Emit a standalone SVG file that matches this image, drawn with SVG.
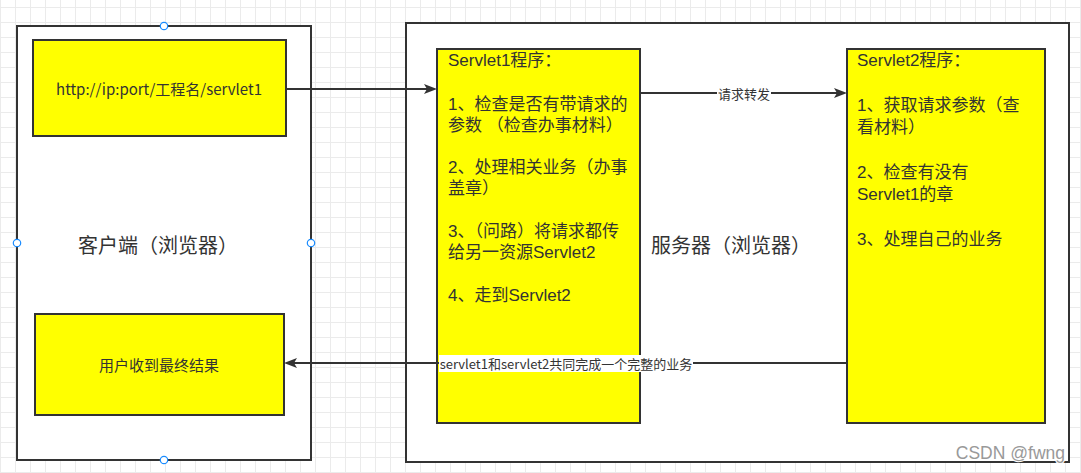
<svg xmlns="http://www.w3.org/2000/svg" width="1081" height="473" viewBox="0 0 1081 473">
<style>
.frame{fill:#ffffff;stroke:#333333;stroke-width:2}
.box{fill:#ffff00;stroke:#333333;stroke-width:2}
.t{font-family:"Noto Sans CJK SC","Noto Sans",sans-serif;fill:#333333}
.c{text-anchor:middle;dominant-baseline:central}
.l{font-family:"Liberation Sans","Noto Sans CJK SC",sans-serif;dominant-baseline:central;font-size:17px;fill:#333333}
.edge{stroke:#333333;stroke-width:2;fill:none}
.handle{fill:#ffffff;stroke:#1a8cff;stroke-width:1.2}
</style>
<defs>
<pattern id="grid" patternUnits="userSpaceOnUse" x="0" y="7" width="15" height="15">
<rect x="0" y="0" width="1" height="15" fill="#ebebeb"/>
<rect x="0" y="0" width="15" height="1" fill="#ebebeb"/>
</pattern>
<marker id="arr" markerUnits="userSpaceOnUse" markerWidth="14" markerHeight="12" refX="7" refY="5" orient="auto">
<path d="M0,0 L13,5 L0,10 L3,5 Z" fill="#333333"/>
</marker>
</defs>
<rect x="0" y="0" width="1081" height="473" fill="#ffffff"/>
<rect x="0" y="0" width="1081" height="473" fill="url(#grid)"/>

<g id="client">
<rect class="frame" x="17" y="26" width="294" height="434"/>
<text class="t c" x="158" y="244" font-size="20">客户端（浏览器）</text>
</g>
<g id="server">
<rect class="frame" x="406" y="23" width="663" height="439"/>
<text class="t c" x="731" y="244" font-size="20">服务器（浏览器）</text>
</g>
<g id="url">
<rect class="box" x="33" y="40" width="253" height="96"/>
<text class="t c" x="159" y="88" font-size="15">http://ip:port/工程名/servlet1</text>
</g>
<g id="result">
<rect class="box" x="35" y="314" width="249" height="101"/>
<text class="t c" x="159" y="364" font-size="15">用户收到最终结果</text>
</g>
<g id="servlet1">
<rect class="box" x="437" y="49" width="203" height="374"/>
<text class="l" x="448" y="60">Servlet1程序：</text>
<text class="l" x="448" y="104">1、检查是否有带请求的</text>
<text class="l" x="448" y="125">参数 （检查办事材料）</text>
<text class="l" x="448" y="167">2、处理相关业务（办事</text>
<text class="l" x="448" y="188">盖章）</text>
<text class="l" x="448" y="231">3、（问路）将请求都传</text>
<text class="l" x="448" y="252">给另一资源Servlet2</text>
<text class="l" x="448" y="295">4、走到Servlet2</text>
</g>
<g id="servlet2">
<rect class="box" x="847" y="49" width="198" height="374"/>
<text class="l" x="857" y="60">Servlet2程序：</text>
<text class="l" x="857" y="105">1、获取请求参数（查</text>
<text class="l" x="857" y="127">看材料）</text>
<text class="l" x="857" y="172">2、检查有没有</text>
<text class="l" x="857" y="194">Servlet1的章</text>
<text class="l" x="857" y="239">3、处理自己的业务</text>
</g>

<g id="connectors">
<line class="edge" x1="286" y1="89" x2="431" y2="89" marker-end="url(#arr)"/>
<line class="edge" x1="640" y1="93" x2="841" y2="93" marker-end="url(#arr)"/>
<rect x="717" y="86" width="54" height="15" fill="#ffffff"/>
<text class="t c" x="744" y="93" font-size="13">请求转发</text>
<line class="edge" x1="847" y1="363" x2="290" y2="363" marker-end="url(#arr)"/>
<rect x="439" y="355" width="254" height="17" fill="#ffffff"/>
<text class="t c" x="566" y="363" font-size="13">servlet1和servlet2共同完成一个完整的业务</text>
</g>

<g id="handles">
<circle class="handle" cx="164" cy="26" r="3.7"/>
<circle class="handle" cx="17" cy="243" r="3.7"/>
<circle class="handle" cx="311" cy="243" r="3.7"/>
<circle class="handle" cx="164" cy="460" r="3.7"/>
</g>

<text x="1065" y="459" font-family="Liberation Sans, sans-serif" font-size="17.5" fill="#999999" stroke="#ffffff" stroke-width="2" paint-order="stroke" text-anchor="end">CSDN @fwng</text>
</svg>
